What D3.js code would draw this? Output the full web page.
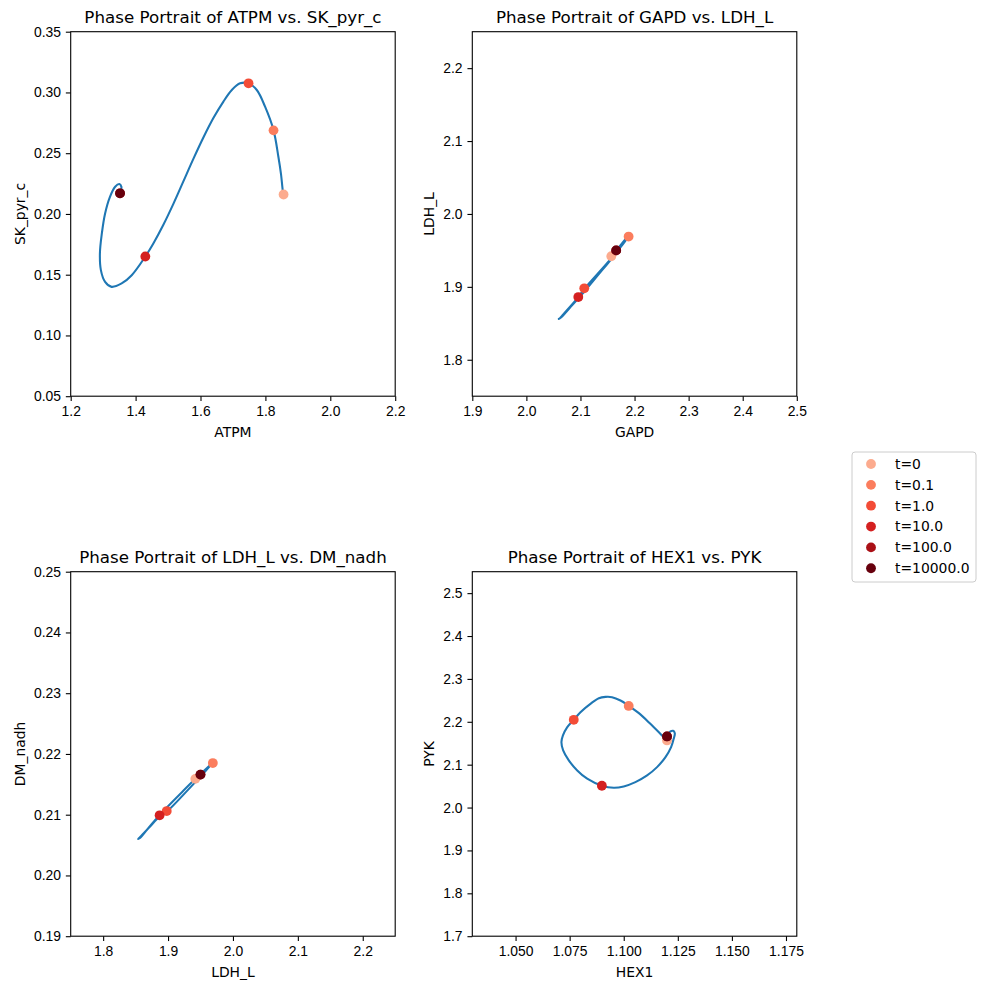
<!DOCTYPE html>
<html>
<head>
<meta charset="UTF-8">
<title>Phase portraits</title>
<script src="https://d3js.org/d3.v7.min.js"></script>
<style>
    body { margin: 0; background: #fff; }
    svg { font-family: "DejaVu Sans", sans-serif; }
    .tick text { font-size: 13.9px; fill: #000; }
    .tick line { stroke: #000; stroke-width: 1.1; }
    .domain { display: none; }
</style>
</head>
<body>
<svg id="chart" width="985" height="989"></svg>
<script>
// time points marked on every trajectory
const timeLabels = ["t=0", "t=0.1", "t=1.0", "t=10.0", "t=100.0", "t=10000.0"];
const markerColors = ["#fcab8e", "#fb7d5d", "#f34c37", "#d42020", "#aa1016", "#67000d"];

// ATPM vs SK_pyr_c
const atpmCurve = [1.856, 1.854, 1.848, 1.840, 1.825, 1.799, 1.7735, 1.748, 1.722, 1.6965, 1.6706, 1.6397, 1.6089, 1.578, 1.5472, 1.5164, 1.4856, 1.4547, 1.430, 1.388, 1.357, 1.326, 1.306, 1.293, 1.290, 1.296, 1.306, 1.321, 1.337, 1.350, 1.356, 1.355, 1.352];
const skPyrCurve = [0.216, 0.2183, 0.233, 0.2471, 0.269, 0.2883, 0.302, 0.3075, 0.3075, 0.302, 0.2925, 0.2789, 0.2629, 0.2453, 0.2268, 0.2083, 0.1911, 0.1757, 0.165, 0.1496, 0.1428, 0.140, 0.1441, 0.1538, 0.1675, 0.184, 0.2004, 0.2141, 0.2224, 0.2246, 0.2225, 0.219, 0.2169];
const atpmAtT = [1.856, 1.825, 1.748, 1.430, 1.352, 1.352];
const skPyrAtT = [0.216, 0.2688, 0.3075, 0.165, 0.217, 0.217];

// GAPD vs LDH_L
const gapdCurve = [2.157, 2.172, 2.184, 2.187, 2.181, 2.150, 2.107, 2.096, 2.075, 2.062, 2.060, 2.064, 2.080, 2.110, 2.140, 2.160, 2.166];
const ldhCurve = [1.942, 1.955, 1.966, 1.968, 1.961, 1.933, 1.897, 1.886, 1.868, 1.857, 1.856, 1.858, 1.871, 1.896, 1.923, 1.941, 1.950];
const gapdAtT = [2.157, 2.189, 2.107, 2.096, 2.166, 2.166];
const ldhAtT = [1.942, 1.969, 1.898, 1.886, 1.950, 1.950];

// LDH_L vs DM_nadh
const ldhCurve2 = [1.942, 1.955, 1.965, 1.967, 1.962, 1.930, 1.898, 1.887, 1.870, 1.856, 1.854, 1.858, 1.875, 1.900, 1.925, 1.945, 1.950];
const nadhCurve = [0.2159, 0.2172, 0.2182, 0.2184, 0.2177, 0.2140, 0.2105, 0.2097, 0.2078, 0.2062, 0.2060, 0.2063, 0.2085, 0.2114, 0.2141, 0.2162, 0.2166];
const ldhAtT2 = [1.942, 1.969, 1.898, 1.887, 1.950, 1.950];
const nadhAtT = [0.2159, 0.2185, 0.2106, 0.2099, 0.2166, 0.2166];

// HEX1 vs PYK
const hex1Curve = [1.1200, 1.1177, 1.1123, 1.1070, 1.1023, 1.0985, 1.0946, 1.0916, 1.0885, 1.0846, 1.0800, 1.0769, 1.0739, 1.0719, 1.0712, 1.0720, 1.0746, 1.0785, 1.0831, 1.0899, 1.0954, 1.1000, 1.1054, 1.1108, 1.1154, 1.1193, 1.1219, 1.1231, 1.1236, 1.1228, 1.1216, 1.1204, 1.1200];
const pykCurve = [2.1565, 2.1681, 2.1953, 2.2201, 2.2372, 2.2496, 2.2574, 2.2581, 2.2550, 2.2418, 2.2224, 2.2046, 2.1875, 2.1681, 2.1526, 2.1332, 2.1099, 2.0866, 2.0672, 2.0509, 2.0462, 2.0493, 2.0594, 2.0749, 2.0943, 2.1176, 2.1409, 2.1603, 2.1735, 2.1790, 2.1774, 2.1704, 2.1658];
const hex1AtT = [1.1200, 1.1023, 1.0769, 1.0899, 1.1200, 1.1200];
const pykAtT = [2.1565, 2.2370, 2.2046, 2.0509, 2.1658, 2.1658];

// tick values
const atpmTicks = [1.2, 1.4, 1.6, 1.8, 2.0, 2.2];
const skPyrTicks = [0.05, 0.10, 0.15, 0.20, 0.25, 0.30, 0.35];
const gapdTicks = [1.9, 2.0, 2.1, 2.2, 2.3, 2.4, 2.5];
const ldhTicks = [1.8, 1.9, 2.0, 2.1, 2.2];
const ldhTicks2 = [1.8, 1.9, 2.0, 2.1, 2.2];
const nadhTicks = [0.19, 0.20, 0.21, 0.22, 0.23, 0.24, 0.25];
const hex1Ticks = [1.050, 1.075, 1.100, 1.125, 1.150, 1.175];
const pykTicks = [1.7, 1.8, 1.9, 2.0, 2.1, 2.2, 2.3, 2.4, 2.5];

const panels = [
    { title: "Phase Portrait of ATPM vs. SK_pyr_c", xLabel: "ATPM", yLabel: "SK_pyr_c",
      x0: 70.7, y0: 31.7, w: 324.5, h: 364.5, xDomain: [1.2, 2.2], yDomain: [0.05, 0.35],
      xTicks: atpmTicks, yTicks: skPyrTicks, xFmt: ".1f", yFmt: ".2f",
      cx: atpmCurve, cy: skPyrCurve, px: atpmAtT, py: skPyrAtT },
    { title: "Phase Portrait of GAPD vs. LDH_L", xLabel: "GAPD", yLabel: "LDH_L",
      x0: 472.3, y0: 31.7, w: 324.5, h: 364.5, xDomain: [1.9, 2.5], yDomain: [1.75, 2.25],
      xTicks: gapdTicks, yTicks: ldhTicks, xFmt: ".1f", yFmt: ".1f",
      cx: gapdCurve, cy: ldhCurve, px: gapdAtT, py: ldhAtT },
    { title: "Phase Portrait of LDH_L vs. DM_nadh", xLabel: "LDH_L", yLabel: "DM_nadh",
      x0: 70.7, y0: 571.7, w: 324.5, h: 364.5, xDomain: [1.75, 2.25], yDomain: [0.19, 0.25],
      xTicks: ldhTicks2, yTicks: nadhTicks, xFmt: ".1f", yFmt: ".2f",
      cx: ldhCurve2, cy: nadhCurve, px: ldhAtT2, py: nadhAtT },
    { title: "Phase Portrait of HEX1 vs. PYK", xLabel: "HEX1", yLabel: "PYK",
      x0: 472.3, y0: 571.7, w: 324.5, h: 364.5, xDomain: [1.03, 1.18], yDomain: [1.7, 2.55],
      xTicks: hex1Ticks, yTicks: pykTicks, xFmt: ".3f", yFmt: ".1f",
      cx: hex1Curve, cy: pykCurve, px: hex1AtT, py: pykAtT }
];

const svg = d3.select("#chart");
svg.append("rect").attr("width", 985).attr("height", 989).attr("fill", "#fff");

panels.forEach(p => {
    const g = svg.append("g").attr("transform", `translate(${p.x0},${p.y0})`);
    const x = d3.scaleLinear().domain(p.xDomain).range([0, p.w]);
    const y = d3.scaleLinear().domain(p.yDomain).range([p.h, 0]);

    const clipId = "clip" + p.xLabel + p.yLabel;
    g.append("clipPath").attr("id", clipId)
        .append("rect").attr("width", p.w).attr("height", p.h);

    const pts = p.cx.map((v, i) => [v, p.cy[i]]);
    const line = d3.line()
        .x(d => x(d[0]))
        .y(d => y(d[1]))
        .curve(d3.curveCatmullRom.alpha(0.5));

    g.append("path")
        .datum(pts)
        .attr("clip-path", `url(#${clipId})`)
        .attr("fill", "none")
        .attr("stroke", "#1f77b4")
        .attr("stroke-width", 2.08)
        .attr("stroke-linejoin", "round")
        .attr("stroke-linecap", "square")
        .attr("d", line);

    g.selectAll("circle.mark")
        .data(p.px.map((v, i) => ({ x: v, y: p.py[i], c: markerColors[i] })))
        .enter().append("circle")
        .attr("class", "mark")
        .attr("cx", d => x(d.x))
        .attr("cy", d => y(d.y))
        .attr("r", 4.9)
        .attr("fill", d => d.c);

    g.append("g")
        .attr("transform", `translate(0,${p.h})`)
        .call(d3.axisBottom(x).tickValues(p.xTicks).tickFormat(d3.format(p.xFmt))
            .tickSizeInner(4.86).tickSizeOuter(0).tickPadding(4.86));

    const yAxis = g.append("g")
        .call(d3.axisLeft(y).tickValues(p.yTicks).tickFormat(d3.format(p.yFmt))
            .tickSizeInner(4.86).tickSizeOuter(0).tickPadding(4.86));

    g.append("rect")
        .attr("width", p.w).attr("height", p.h)
        .attr("fill", "none").attr("stroke", "#000").attr("stroke-width", 1.1);

    g.append("text")
        .attr("x", p.w / 2).attr("y", -8.3)
        .attr("text-anchor", "middle")
        .style("font-size", "16.7px")
        .text(p.title);

    g.append("text")
        .attr("x", p.w / 2).attr("y", p.h + 41)
        .attr("text-anchor", "middle")
        .style("font-size", "13.9px")
        .text(p.xLabel);

    const bb = yAxis.node().getBBox();
    const lx = bb.x - 5.56 - 3.3;
    g.append("text")
        .attr("transform", `translate(${lx},${p.h / 2}) rotate(-90)`)
        .attr("text-anchor", "middle")
        .style("font-size", "13.9px")
        .text(p.yLabel);
});

// legend
const legend = svg.append("g").attr("transform", "translate(852,452)");
legend.append("rect")
    .attr("width", 124).attr("height", 130).attr("rx", 3)
    .attr("fill", "#fff").attr("fill-opacity", 0.8)
    .attr("stroke", "#cccccc").attr("stroke-width", 1);

const rows = legend.selectAll("g.row")
    .data(timeLabels)
    .enter().append("g")
    .attr("transform", (d, i) => `translate(0,${12 + i * 20.85})`);
rows.append("circle").attr("cx", 19).attr("cy", 0).attr("r", 4.9)
    .attr("fill", (d, i) => markerColors[i]);
rows.append("text").attr("x", 43).attr("y", 0).attr("dy", "0.35em")
    .style("font-size", "13.9px").text(d => d);
</script>
</body>
</html>
